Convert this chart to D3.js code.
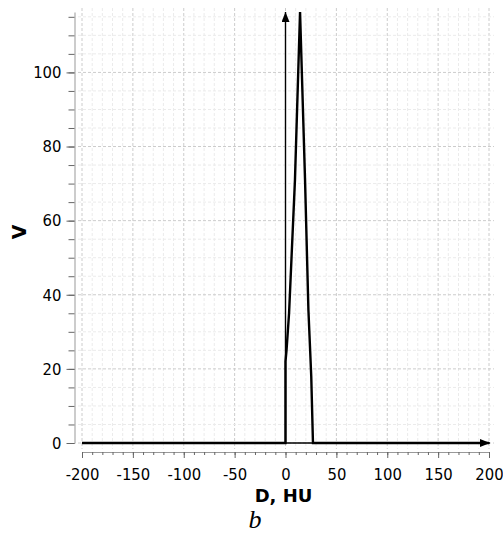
<!DOCTYPE html>
<html>
<head>
<meta charset="utf-8">
<script src="https://cdn.jsdelivr.net/npm/d3@7"></script>
<style>
  body { margin: 0; background: #fff; }
  svg { display: block; }
  .tick text { font-family: "DejaVu Sans Condensed", "DejaVu Sans", sans-serif; font-size: 16.5px; fill: #000; }
</style>
</head>
<body>
<div id="chart"></div>
<script>
// data
const curveD = [-200, 0, 0, 1, 3.5, 9.3, 14.3, 19.2, 22.5, 23.6, 25.3, 27, 200];
const curveV = [0, 0, 22, 25, 35, 71, 116.3, 71, 36, 29, 18, 0, 0];
const xTicks = [-200, -150, -100, -50, 0, 50, 100, 150, 200];
const yTicks = [0, 20, 40, 60, 80, 100];
const xMinor = d3.range(-200, 201, 10);
const yMinor = d3.range(0, 116, 5);

const width = 503, height = 536;

const x = d3.scaleLinear().domain([-200, 200]).range([82, 489]);
const y = d3.scaleLinear().domain([0, 116.3]).range([443, 12]);

const svg = d3.select('#chart')
  .append('svg')
  .attr('width', width)
  .attr('height', height);

// grid
const grid = svg.append('g');
grid.selectAll('line.gx')
  .data(xMinor)
  .join('line')
  .attr('x1', d => x(d)).attr('x2', d => x(d))
  .attr('y1', 8).attr('y2', 449)
  .attr('stroke', d => d % 50 === 0 ? '#cccccc' : '#ebebeb')
  .attr('stroke-dasharray', '3,2');
grid.selectAll('line.gy')
  .data(yMinor)
  .join('line')
  .attr('x1', 78).attr('x2', 494)
  .attr('y1', d => y(d)).attr('y2', d => y(d))
  .attr('stroke', d => d % 20 === 0 ? '#cccccc' : '#ebebeb')
  .attr('stroke-dasharray', '3,2');

// axes
function styleAxis(g) {
  g.select('.domain').attr('stroke', '#999');
  g.selectAll('.tick line').attr('stroke', '#666');
}
const fmt = d => String(d);

svg.append('g')
  .attr('transform', 'translate(0,452)')
  .call(d3.axisBottom(x).tickValues(xMinor).tickSize(3).tickSizeOuter(0).tickFormat(''))
  .call(styleAxis);
svg.append('g')
  .attr('transform', 'translate(0,452)')
  .call(d3.axisBottom(x).tickValues(xTicks).tickSize(6).tickSizeOuter(0).tickPadding(10).tickFormat(fmt))
  .call(styleAxis)
  .call(g => g.select('.domain').remove());

svg.append('g')
  .attr('transform', 'translate(74.5,0)')
  .call(d3.axisLeft(y).tickValues(yMinor).tickSize(6).tickSizeOuter(0).tickFormat(''))
  .call(styleAxis);
svg.append('g')
  .attr('transform', 'translate(74.5,0)')
  .call(d3.axisLeft(y).tickValues(yTicks).tickSize(8).tickSizeOuter(0).tickPadding(5).tickFormat(fmt))
  .call(styleAxis)
  .call(g => g.select('.domain').remove());

// arrow markers
const defs = svg.append('defs');
defs.append('marker')
  .attr('id', 'arrow')
  .attr('viewBox', '0 0 10 8')
  .attr('refX', 10).attr('refY', 4)
  .attr('markerUnits', 'userSpaceOnUse')
  .attr('markerWidth', 11).attr('markerHeight', 8)
  .attr('orient', 'auto')
  .append('path')
  .attr('d', 'M0,0 L10,4 L0,8 Z')
  .attr('fill', '#000');

// reference arrows along V = 0 and D = 0
svg.append('line')
  .attr('x1', x(-200)).attr('x2', x(200) + 1)
  .attr('y1', y(0)).attr('y2', y(0))
  .attr('stroke', '#000').attr('stroke-width', 1.4)
  .attr('marker-end', 'url(#arrow)');
svg.append('line')
  .attr('x1', x(0)).attr('x2', x(0))
  .attr('y1', y(0)).attr('y2', y(116.3))
  .attr('stroke', '#000').attr('stroke-width', 1.4)
  .attr('marker-end', 'url(#arrow)');

// curve
const line = d3.line()
  .x((d, i) => x(curveD[i]))
  .y(d => y(d));
svg.append('path')
  .datum(curveV)
  .attr('d', line)
  .attr('fill', 'none')
  .attr('stroke', '#000')
  .attr('stroke-width', 2.4)
  .attr('stroke-linejoin', 'miter');

// labels
svg.append('text')
  .attr('x', 283.5).attr('y', 502)
  .attr('text-anchor', 'middle')
  .attr('font-family', '"DejaVu Sans", sans-serif')
  .attr('font-weight', 'bold')
  .attr('font-size', 18)
  .text('D, HU');
svg.append('text')
  .attr('transform', 'translate(26,232) rotate(-90)')
  .attr('text-anchor', 'middle')
  .attr('font-family', '"DejaVu Sans", sans-serif')
  .attr('font-weight', 'bold')
  .attr('font-size', 19)
  .text('V');
svg.append('text')
  .attr('x', 255).attr('y', 528)
  .attr('text-anchor', 'middle')
  .attr('font-family', '"Liberation Serif", serif')
  .attr('font-style', 'italic')
  .attr('font-size', 26)
  .text('b');
</script>
</body>
</html>
